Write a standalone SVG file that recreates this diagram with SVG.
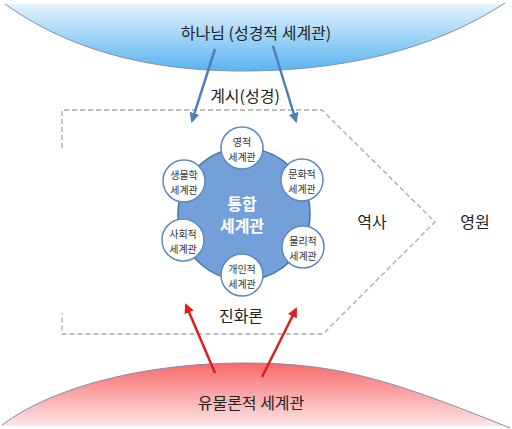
<svg xmlns="http://www.w3.org/2000/svg" width="512" height="429" viewBox="0 0 512 429">
<defs>
<linearGradient id="gBlue" x1="0" y1="4" x2="0" y2="71" gradientUnits="userSpaceOnUse">
<stop offset="0" stop-color="#e4f3fd"/>
<stop offset="1" stop-color="#58b4ef"/>
</linearGradient>
<linearGradient id="gRed" x1="0" y1="363" x2="0" y2="426" gradientUnits="userSpaceOnUse">
<stop offset="0" stop-color="#f7696b"/>
<stop offset="1" stop-color="#fde6e6"/>
</linearGradient>
<marker id="aBlue" viewBox="0 0 10 10" refX="8" refY="5" markerWidth="4" markerHeight="4" orient="auto" markerUnits="strokeWidth">
<path d="M0,0 L10,5 L0,10 z" fill="#4f7fb5"/>
</marker>
<marker id="aRed" viewBox="0 0 10 10" refX="8" refY="5" markerWidth="4" markerHeight="4" orient="auto" markerUnits="strokeWidth">
<path d="M0,0 L10,5 L0,10 z" fill="#e01e1e"/>
</marker>
<style>
text{font-family:"Noto Sans CJK KR","Noto Sans",sans-serif;text-anchor:middle;dominant-baseline:central;}
.lbl{font-size:16px;fill:#222;}
.small{font-size:10px;fill:#333;}
.sc{fill:#ffffff;stroke:#5b8bc0;stroke-width:1.5;}
.edge{fill:none;stroke:#8391a8;stroke-width:1;}
.ctr{font-size:16px;font-weight:bold;fill:#ffffff;}
</style>
</defs>

<g id="god">
<path d="M5,4 C80,58 170,72 250,71 C340,70 430,52 505,3 L505,4 Z" fill="url(#gBlue)"/>
<path class="edge" d="M5,4 C80,58 170,72 250,71 C340,70 430,52 505,3"/>
<text class="lbl" x="256" y="32">하나님 (성경적 세계관)</text>
</g>

<g id="materialism">
<path d="M2,425 C55,385 150,363 243,363 C330,363 380,375 510,428 L510,426 L2,426 Z" fill="url(#gRed)"/>
<path class="edge" d="M2,425 C55,385 150,363 243,363 C330,363 380,375 510,428"/>
<text class="lbl" x="251" y="402">유물론적 세계관</text>
</g>

<g id="history">
<path d="M62,148 L62,110 L322,110 L435,222 L323,334 L62,334 L62,313" fill="none" stroke="#aaaaaa" stroke-width="1.3" stroke-dasharray="5,3"/>
<text class="lbl" x="372" y="221">역사</text>
</g>

<g id="eternity">
<text class="lbl" x="475" y="221">영원</text>
</g>

<g id="connectors">
<line x1="215" y1="49" x2="192" y2="121" stroke="#4f7fb5" stroke-width="2.5" marker-end="url(#aBlue)"/>
<line x1="273" y1="46" x2="296" y2="121" stroke="#4f7fb5" stroke-width="2.5" marker-end="url(#aBlue)"/>
<line x1="215" y1="373" x2="186" y2="305" stroke="#e01e1e" stroke-width="2.5" marker-end="url(#aRed)"/>
<line x1="262" y1="377" x2="296" y2="309" stroke="#e01e1e" stroke-width="2.5" marker-end="url(#aRed)"/>
</g>

<g id="revelation">
<text class="lbl" x="245" y="95">계시(성경)</text>
</g>
<g id="evolution">
<text class="lbl" x="241" y="315">진화론</text>
</g>

<g id="integrated">
<circle cx="244" cy="214" r="66" fill="#73a0d8" stroke="#4a74a8" stroke-width="1.5"/>
<text class="ctr" x="242" y="203">통합</text>
<text class="ctr" x="242" y="225">세계관</text>
</g>

<g id="spiritual">
<circle class="sc" cx="242" cy="148" r="21"/>
<text class="small" x="242" y="141">영적</text>
<text class="small" x="242" y="156">세계관</text>
</g>
<g id="biological">
<circle class="sc" cx="184" cy="181" r="21"/>
<text class="small" x="184" y="174">생물학</text>
<text class="small" x="184" y="189">세계관</text>
</g>
<g id="cultural">
<circle class="sc" cx="302" cy="180" r="21"/>
<text class="small" x="302" y="173">문화적</text>
<text class="small" x="302" y="188">세계관</text>
</g>
<g id="social">
<circle class="sc" cx="183" cy="240" r="21"/>
<text class="small" x="183" y="233">사회적</text>
<text class="small" x="183" y="248">세계관</text>
</g>
<g id="physical">
<circle class="sc" cx="303" cy="247" r="21"/>
<text class="small" x="303" y="240">물리적</text>
<text class="small" x="303" y="255">세계관</text>
</g>
<g id="personal">
<circle class="sc" cx="242" cy="275" r="21"/>
<text class="small" x="242" y="268">개인적</text>
<text class="small" x="242" y="283">세계관</text>
</g>
</svg>
